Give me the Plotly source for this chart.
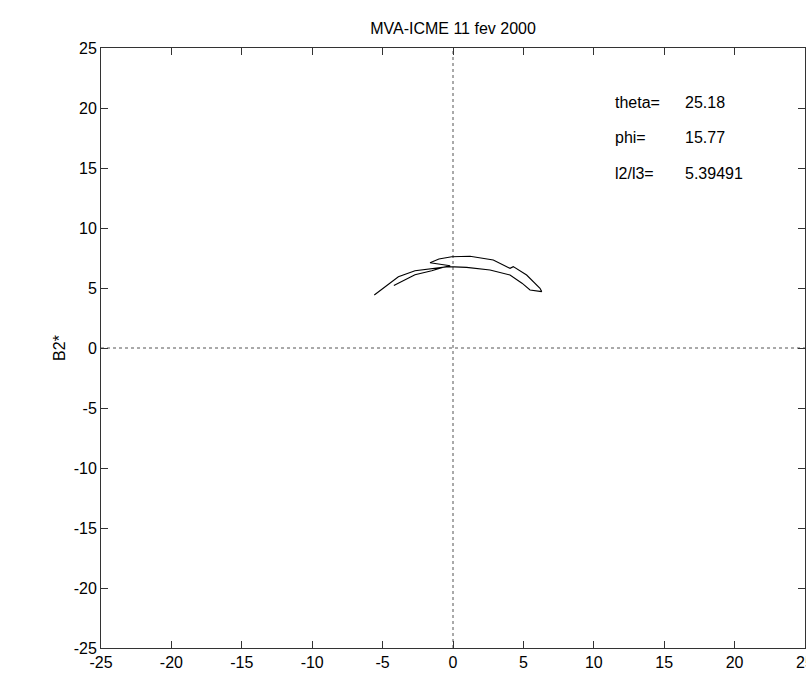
import plotly.graph_objects as go

# Hodogram path (B1*, B2*)
b1 = [-5.59, -4.83, -3.88, -2.7, -1.51, -0.33, 0.97, 2.63, 4.05, 4.9, 5.47, 6.3,
      6.18, 5.23, 4.28, 4.05, 2.86, 1.21, -0.09, -1.0, -1.63,
      -0.8, -0.2, -0.8, -1.51, -2.7, -3.41, -4.2]
b2 = [4.42, 5.11, 5.94, 6.44, 6.64, 6.78, 6.72, 6.5, 6.08, 5.4, 4.83, 4.7,
      4.97, 6.08, 6.78, 6.64, 7.33, 7.65, 7.6, 7.42, 7.1,
      6.95, 6.85, 6.7, 6.44, 6.1, 5.67, 5.2]

ticks = [-25, -20, -15, -10, -5, 0, 5, 10, 15, 20, 25]
tick_text = ["-25", "-20", "-15", "-10", "-5", "0", "5", "10", "15", "20", "25"]
title = "MVA-ICME 11 fev 2000"
labels = ["theta=", "phi=", "l2/l3="]
values = ["25.18", "15.77", "5.39491"]
label_y = [20.5, 17.56, 14.56]

font = dict(family="Liberation Sans, Arial, sans-serif", size=16, color="black")

fig = go.Figure()
fig.add_trace(go.Scatter(x=[-25, 25], y=[0, 0], mode="lines",
                         line=dict(color="#555555", width=1, dash="dot"), hoverinfo="skip"))
fig.add_trace(go.Scatter(x=[0, 0], y=[-25, 25], mode="lines",
                         line=dict(color="#555555", width=1, dash="dot"), hoverinfo="skip"))
fig.add_trace(go.Scatter(x=b1, y=b2, mode="lines", line=dict(color="black", width=1.1)))

for lab, val, yy in zip(labels, values, label_y):
    fig.add_annotation(x=11.39, y=yy, text=lab, showarrow=False, xanchor="left",
                       yanchor="middle", font=font)
    fig.add_annotation(x=16.36, y=yy, text=val, showarrow=False, xanchor="left",
                       yanchor="middle", font=font)

# last x tick label sits on the page edge (partly cut off, as in the reference)
fig.add_annotation(x=ticks[-1], y=ticks[0], text=tick_text[-1], showarrow=False,
                   xanchor="center", yanchor="middle", yshift=-14, font=font)

axis_common = dict(tickvals=ticks, ticktext=tick_text, ticks="inside",
                   ticklen=7, tickcolor="#333333", showgrid=False, zeroline=False,
                   showline=True, linecolor="#333333", linewidth=1, mirror="ticks",
                   tickfont=font, automargin=False)

fig.update_layout(
    width=806, height=673,
    margin=dict(l=101, r=1, t=48, b=25, autoexpand=False),
    paper_bgcolor="white", plot_bgcolor="white",
    showlegend=False,
    title=dict(text=title, x=453 / 806, xanchor="center", y=1 - 28 / 673, yanchor="middle",
               font=font, automargin=False),
    xaxis=dict(**axis_common, range=[-25, 25]),
    yaxis=dict(**axis_common, range=[-25, 25], title=dict(text="B2*", font=font, standoff=4)),
)

fig.write_html("out.html", config={"displayModeBar": False},
               post_script="document.body.style.margin='0';document.body.style.overflow='hidden';")
